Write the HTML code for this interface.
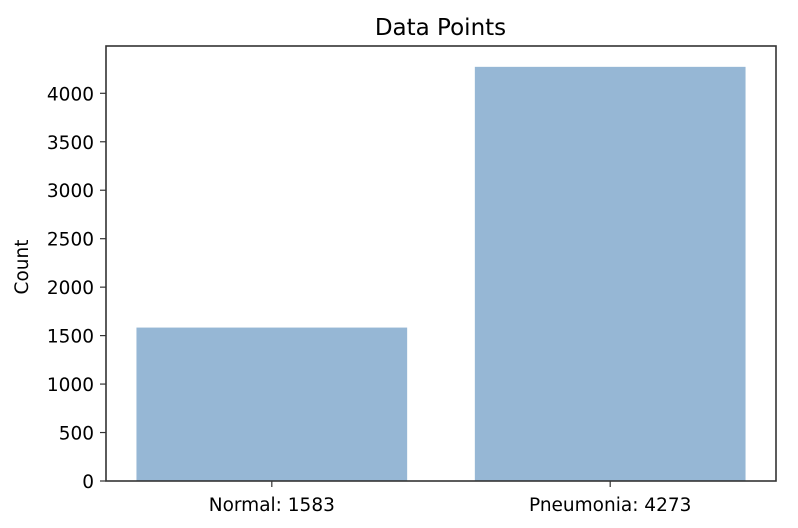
<!DOCTYPE html>
<html><head><meta charset="utf-8"><style>
body{margin:0;background:#fff;}
svg{display:block;font-family:"DejaVu Sans","Liberation Sans",sans-serif;}
</style></head><body>
<svg id="chart" width="798" height="528" viewBox="0 0 798 528" xmlns="http://www.w3.org/2000/svg">
<text x="440.5" y="35" font-size="23" text-anchor="middle" fill="#000">Data Points</text>
<text transform="translate(28,267) rotate(-90)" font-size="18.5" text-anchor="middle" fill="#000">Count</text>
<g id="bars"></g>
<g id="yticks"></g>
<g id="xticks"></g>
<rect x="106" y="46" width="670" height="435" fill="none" stroke="#333" stroke-width="1.6"/>
</svg>
<script>
const categories = ["Normal: 1583", "Pneumonia: 4273"];
const counts = [1583, 4273];
const yTicks = [0, 500, 1000, 1500, 2000, 2500, 3000, 3500, 4000];
const L=106,R=776,T=46,B=481;
const yMax=(481-46)/((481-93.3)/4000);
function y(v){return B-(B-T)*v/yMax;}
const xmin=-0.49,xmax=1.49;
function x(u){return L+(R-L)*(u-xmin)/(xmax-xmin);}
const ns="http://www.w3.org/2000/svg";
const bars=document.getElementById('bars'),yt=document.getElementById('yticks'),xt=document.getElementById('xticks');
counts.forEach((c,i)=>{
  const r=document.createElementNS(ns,'rect');
  
  
  r.setAttribute('x',x(i-0.4));r.setAttribute('width',x(i+0.4)-x(i-0.4));
  r.setAttribute('y',y(c));r.setAttribute('height',B-y(c));
  r.setAttribute('fill','#96b7d5');
  bars.appendChild(r);
  const tk=document.createElementNS(ns,'line');
  
  
  tk.setAttribute('x1',x(i));tk.setAttribute('x2',x(i));tk.setAttribute('y1',B);tk.setAttribute('y2',B+6);
  tk.setAttribute('stroke','#333');tk.setAttribute('stroke-width','1.2');
  xt.appendChild(tk);
  const t=document.createElementNS(ns,'text');
  
  
  t.setAttribute('x',x(i));t.setAttribute('y',B+30);
  t.setAttribute('font-size','18.5');t.setAttribute('text-anchor','middle');
  t.textContent=categories[i];
  xt.appendChild(t);
});
yTicks.forEach(v=>{
  const tk=document.createElementNS(ns,'line');
  
  
  tk.setAttribute('x1',L-6);tk.setAttribute('x2',L);tk.setAttribute('y1',y(v));tk.setAttribute('y2',y(v));
  tk.setAttribute('stroke','#333');tk.setAttribute('stroke-width','1.2');
  yt.appendChild(tk);
  const t=document.createElementNS(ns,'text');
  
  
  t.setAttribute('x',L-12);t.setAttribute('y',y(v)+7);
  t.setAttribute('font-size','18.5');t.setAttribute('text-anchor','end');
  t.textContent=v;
  yt.appendChild(t);
});
</script>
</body></html>
